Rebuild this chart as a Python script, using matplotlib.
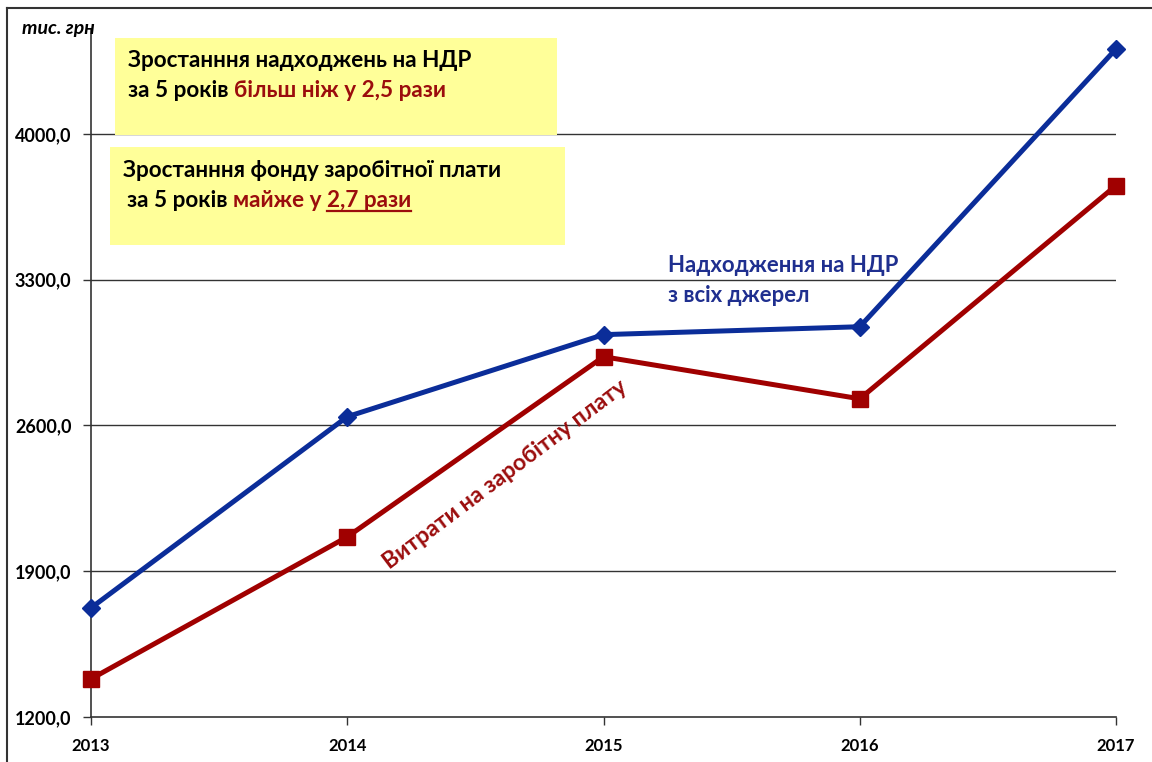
import matplotlib.pyplot as plt
from matplotlib.lines import Line2D

plt.rcParams['font.family'] = ['Lato', 'DejaVu Sans']

years = [2013, 2014, 2015, 2016, 2017]
ndr = [1724, 2642, 3036, 3074, 4408]      # Надходження на НДР
wages = [1383, 2065, 2930, 2728, 3752]    # Витрати на заробітну плату
yticks = [1200, 1900, 2600, 3300, 4000]

BLUE = '#0b2d99'
RED = '#a00000'
DARKRED = '#9b0d0d'
YELLOW = '#ffff99'

fig = plt.figure(figsize=(11.52, 7.62), dpi=100)
ax = fig.add_axes([0.079, 0.059, 0.8898, 0.902])

for y in yticks[1:]:
    ax.axhline(y, color='#333333', lw=1.0, zorder=1)

ax.plot(years, ndr, color=BLUE, lw=3.6, marker='D', ms=9, zorder=3, clip_on=False)
ax.plot(years, wages, color=RED, lw=3.6, marker='s', ms=12, zorder=3, clip_on=False)

ax.set_xlim(2013, 2017)
ax.set_ylim(1200, 4500)
ax.set_xticks(years)
ax.set_xticklabels([str(y) for y in years], fontweight='bold', fontsize=12)
ax.set_yticks(yticks)
ax.set_yticklabels([f'{v},0' for v in yticks], fontweight='bold', fontsize=13)
ax.tick_params(axis='both', length=6, width=1, color='#333333')
ax.tick_params(axis='y', pad=8)
ax.tick_params(axis='x', pad=9)
for s in ['top', 'right']:
    ax.spines[s].set_visible(False)
for s in ['left', 'bottom']:
    ax.spines[s].set_color('#333333')
    ax.spines[s].set_linewidth(1.2)

# figure frame
fig.add_artist(Line2D([0.006, 1.0], [0.989, 0.989], color='#333333', lw=1.5))
fig.add_artist(Line2D([0.006, 0.006], [0.0, 0.989], color='#333333', lw=1.5))

fig.text(0.019, 0.962, 'тис. грн', fontsize=14, fontweight='bold', style='italic',
         va='center', ha='left')

# yellow boxes
def box(x0, y0, x1, y1):
    W, H = 1152, 762
    r = plt.Rectangle((x0 / W, 1 - y1 / H), (x1 - x0) / W, (y1 - y0) / H,
                      transform=fig.transFigure, facecolor=YELLOW, edgecolor='none', zorder=2)
    fig.add_artist(r)

box(115, 38, 557, 135)
box(110, 147, 565, 245)

fig.canvas.draw()
renderer = fig.canvas.get_renderer()

def seq(x, y, parts, size=16.2):
    # parts: list of (text, color, underline)
    W, H = 1152, 762
    px = x
    for txt, col, ul in parts:
        t = fig.text(px / W, 1 - y / H, txt, color=col, fontsize=size, fontweight='bold',
                     va='baseline', ha='left', zorder=4)
        bb = t.get_window_extent(renderer)
        if ul:
            yy = 1 - (y + 4) / H
            fig.add_artist(Line2D([bb.x0 / W, bb.x1 / W], [yy, yy], color=col, lw=1.6, zorder=4))
        px = bb.x1

seq(128, 67, [('Зростанння надходжень на НДР', 'black', False)])
seq(128, 97, [('за 5 років ', 'black', False), ('більш ніж у 2,5 рази', DARKRED, False)])
seq(123, 177, [('Зростанння фонду заробітної плати', 'black', False)])
seq(127, 207, [('за 5 років ', 'black', False), ('майже у ', DARKRED, False),
               ('2,7 рази', DARKRED, True)])

fig.text(668 / 1152, 1 - 272 / 762, 'Надходження на НДР', color='#1f2f8f',
         fontsize=15.9, fontweight='bold', va='baseline')
fig.text(668 / 1152, 1 - 302 / 762, 'з всіх джерел', color='#1f2f8f',
         fontsize=15.9, fontweight='bold', va='baseline')

fig.text(390 / 1152, 1 - 570 / 762, 'Витрати на заробітну плату', color=DARKRED,
         fontsize=16.6, fontweight='bold', rotation=37, rotation_mode='anchor',
         va='baseline', ha='left')

fig.savefig('out.png', dpi=100)
